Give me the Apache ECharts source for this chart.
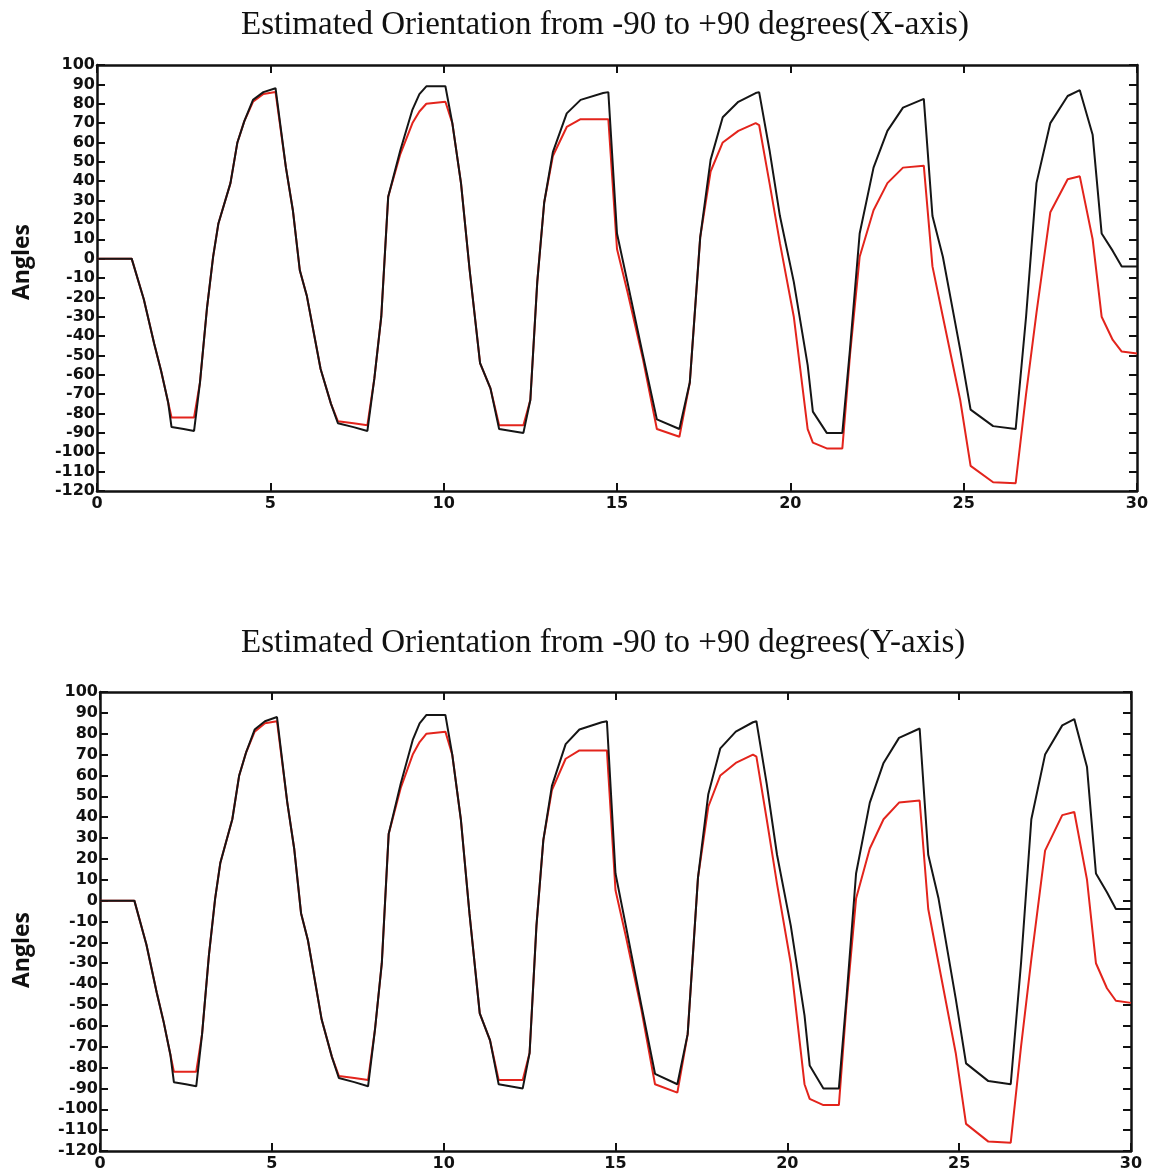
<!DOCTYPE html>
<html>
<head>
<meta charset="utf-8">
<script src="https://cdn.jsdelivr.net/npm/echarts@6/dist/echarts.min.js"></script>
<style>
html,body{margin:0;padding:0;background:#fff;}
#chart{width:1156px;height:1174px;}
</style>
</head>
<body>
<div id="chart"></div>
<script>
// ---- data ----
const titles = ['Estimated Orientation from -90 to +90 degrees(X-axis)', 'Estimated Orientation from -90 to +90 degrees(Y-axis)'];
const yAxisName = 'Angles';
const timeValues = [0, 1.0, 1.35, 1.65, 1.85, 2.05, 2.15, 2.5, 2.8, 2.97, 3.17, 3.35, 3.5, 3.85, 4.05, 4.25, 4.5, 4.8, 5.15, 5.45, 5.65, 5.85, 6.05, 6.45, 6.75, 6.95, 7.4, 7.8, 8.0, 8.2, 8.4, 8.75, 9.1, 9.3, 9.5, 10.05, 10.25, 10.5, 10.75, 11.05, 11.35, 11.6, 12.3, 12.5, 12.7, 12.9, 13.15, 13.55, 13.95, 14.6, 14.75, 15.0, 15.3, 15.75, 16.15, 16.8, 17.1, 17.4, 17.7, 18.05, 18.5, 19.0, 19.1, 19.4, 19.7, 20.1, 20.5, 20.65, 21.05, 21.5, 21.72, 22.0, 22.4, 22.8, 23.25, 23.85, 24.1, 24.4, 24.9, 25.2, 25.85, 26.5, 26.8, 27.1, 27.5, 28.0, 28.35, 28.72, 28.98, 29.3, 29.56, 30.0];
const blackValues = [0, 0, -21, -44, -58, -74, -87, -88, -89, -64, -26, 1, 18, 39, 60, 71, 82, 86, 88, 47, 25, -6, -19, -57, -75, -85, -87, -89, -62, -30, 32, 56, 77, 85, 89, 89, 70, 39, -6, -54, -67, -88, -90, -73, -12, 29, 55, 75, 82, 85.5, 86, 13, -12, -50, -83, -88, -64, 11, 51, 73, 81, 85.5, 86, 56, 22, -12, -55, -79, -90, -90, -47, 13, 47, 66, 78, 82.5, 22, 1, -47, -78, -86.5, -88, -30, 39, 70, 84, 87, 64, 13, 4, -4, -4];
const redValues = [0, 0, -21, -44, -58, -74, -82, -82, -82, -64, -26, 1, 18, 39, 60, 71, 81, 85, 86, 47, 25, -6, -19, -57, -75, -84, -85, -86, -62, -30, 32, 54, 70, 76, 80, 81, 70, 39, -6, -54, -67, -86, -86, -73, -12, 29, 53, 68, 72, 72, 72, 5, -17, -52, -88, -92, -64, 11, 45, 60, 66, 70, 69, 39, 8, -30, -88, -95, -98, -98, -50, 1, 25, 39, 47, 48, -4, -30, -73, -107, -115.5, -116, -70, -28, 24, 41, 42.5, 10, -30, -42, -48, -49];
const xTicks = {min: 0, max: 30, interval: 5};
const yTicks = {min: -120, max: 100, interval: 10};

// ---- chart ----
const chart = echarts.init(document.getElementById('chart'));
const blackData = timeValues.map((t, i) => [t, blackValues[i]]);
const redData = timeValues.map((t, i) => [t, redValues[i]]);

const grids = [
  {left: 97, top: 65, width: 1040, height: 426},
  {left: 100, top: 692, width: 1031, height: 459}
];
const titleTops = [4, 622];
const nameCenters = [262, 950];

const lblFont = {fontFamily: 'DejaVu Sans', fontWeight: 'bold', fontSize: 16, color: '#111'};
const axLine = {show: true, onZero: false, lineStyle: {color: '#111', width: 2.5}};

const xAxes = [], yAxes = [], series = [], titleArr = [], graphics = [];
grids.forEach((g, gi) => {
  xAxes.push({
    type: 'value', gridIndex: gi, position: 'bottom', min: xTicks.min, max: xTicks.max, interval: xTicks.interval,
    axisLine: axLine,
    axisTick: {inside: true, length: 8, lineStyle: {color: '#111', width: 2}},
    axisLabel: Object.assign({margin: 5}, lblFont),
    splitLine: {show: false}
  });
  xAxes.push({
    type: 'value', gridIndex: gi, position: 'top', min: xTicks.min, max: xTicks.max, interval: xTicks.interval,
    axisLine: axLine,
    axisTick: {show: true, inside: true, length: 8, lineStyle: {color: '#111', width: 2}},
    axisLabel: {show: false},
    splitLine: {show: false}
  });
  yAxes.push({
    type: 'value', gridIndex: gi, position: 'left', min: yTicks.min, max: yTicks.max, interval: yTicks.interval,
    axisLine: axLine,
    axisTick: {show: true, inside: true, length: 8, lineStyle: {color: '#111', width: 2}},
    axisLabel: Object.assign({margin: 2, showMinLabel: true, showMaxLabel: true}, lblFont),
    splitLine: {show: false}
  });
  yAxes.push({
    type: 'value', gridIndex: gi, position: 'right', min: yTicks.min, max: yTicks.max, interval: yTicks.interval,
    axisLine: axLine,
    axisTick: {show: true, inside: true, length: 8, lineStyle: {color: '#111', width: 2}},
    axisLabel: {show: false},
    splitLine: {show: false}
  });
  series.push({
    type: 'line', xAxisIndex: gi * 2, yAxisIndex: gi * 2, data: redData, showSymbol: false, symbol: 'none',
    lineStyle: {color: '#e3241c', width: 2}, z: 2, animation: false
  });
  series.push({
    type: 'line', xAxisIndex: gi * 2, yAxisIndex: gi * 2, data: blackData, showSymbol: false, symbol: 'none',
    lineStyle: {color: '#151515', width: 2}, z: 3, animation: false
  });
  titleArr.push({
    text: titles[gi], left: 236, top: titleTops[gi],
    textStyle: {fontFamily: 'Liberation Serif', fontWeight: 'normal', fontSize: 33, color: '#111'}
  });
  graphics.push({
    type: 'text',
    x: 22, y: nameCenters[gi],
    rotation: Math.PI / 2,
    style: {text: yAxisName, font: 'bold 23px "Open Sans"', fill: '#111', align: 'center', verticalAlign: 'middle'}
  });
});

chart.setOption({
  animation: false,
  backgroundColor: '#fff',
  title: titleArr,
  grid: grids,
  xAxis: xAxes,
  yAxis: yAxes,
  series: series,
  graphic: graphics
});
</script>
</body>
</html>
